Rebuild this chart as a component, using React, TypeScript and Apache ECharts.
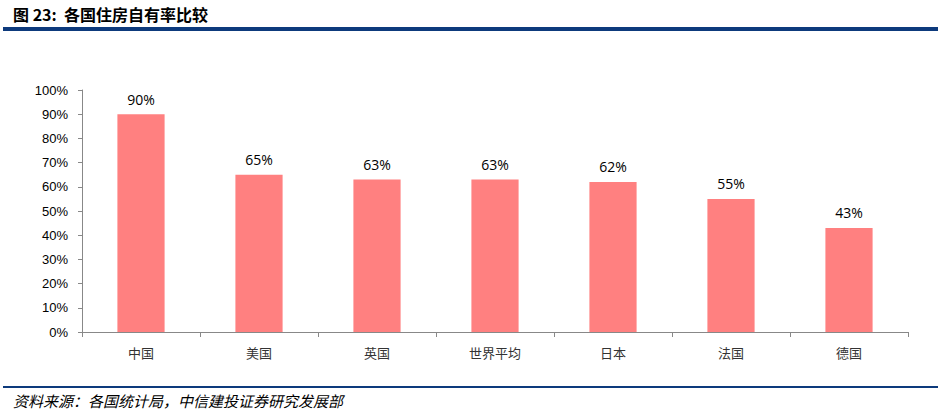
import { useEffect, useRef } from "react";
import * as echarts from "echarts";

const categories = ["中国", "美国", "英国", "世界平均", "日本", "法国", "德国"];
const ownershipRate = [0.9, 0.65, 0.63, 0.63, 0.62, 0.55, 0.43];

const titleText = "图 23:  各国住房自有率比较";
const sourceText = "资料来源：各国统计局，中信建投证券研究发展部";

export default function App() {
  const chartRef = useRef<HTMLDivElement>(null);

  useEffect(() => {
    document.body.style.margin = "0";
    if (!chartRef.current) return;
    const chart = echarts.init(chartRef.current, null, { renderer: "svg" });

    chart.setOption({
      animation: false,
      backgroundColor: "#fff",
      grid: { left: 82, right: 35, top: 90, bottom: 83 },
      graphic: [
        {
          type: "text",
          left: 13,
          top: 4,
          style: {
            text: titleText,
            font: "bold 16px 'Noto Sans CJK SC'",
            lineHeight: 20,
            fill: "#000",
          },
        },
        {
          type: "rect",
          shape: { x: 3, y: 27, width: 935, height: 4 },
          style: { fill: "#0d3a7c" },
        },
        {
          type: "rect",
          shape: { x: 3, y: 386, width: 935, height: 2 },
          style: { fill: "#0d3a7c" },
        },
        {
          type: "text",
          left: 13,
          top: 393,
          style: {
            text: sourceText,
            font: "italic 15px 'Noto Sans CJK SC'",
            fill: "#000",
          },
        },
      ],
      xAxis: {
        type: "category",
        data: categories,
        axisLine: { lineStyle: { color: "#888", width: 1 } },
        axisTick: { show: true, length: 5, lineStyle: { color: "#888" } },
        axisLabel: {
          color: "#333",
          fontSize: 13,
          margin: 14,
          fontFamily: "'Noto Sans CJK SC'",
        },
      },
      yAxis: {
        type: "value",
        min: 0,
        max: 1,
        interval: 0.1,
        axisLine: { show: true, lineStyle: { color: "#888", width: 1 } },
        axisTick: { show: true, length: 4, lineStyle: { color: "#888" } },
        splitLine: { show: false },
        axisLabel: {
          color: "#000",
          fontSize: 13,
          margin: 14,
          fontFamily: "'Liberation Sans', Arial",
          formatter: (v: number) => `${Math.round(v * 100)}%`,
        },
      },
      series: [
        {
          type: "bar",
          data: ownershipRate,
          barWidth: "40%",
          itemStyle: { color: "#ff8080" },
          label: {
            show: true,
            position: "top",
            distance: 8,
            color: "#000",
            fontSize: 14,
            fontFamily: "'Open Sans', 'Liberation Sans'",
            formatter: (p: { value: number }) => `${Math.round(p.value * 100)}%`,
          },
        },
      ],
    });

    return () => chart.dispose();
  }, []);

  return <div ref={chartRef} style={{ width: 943, height: 415 }} />;
}
